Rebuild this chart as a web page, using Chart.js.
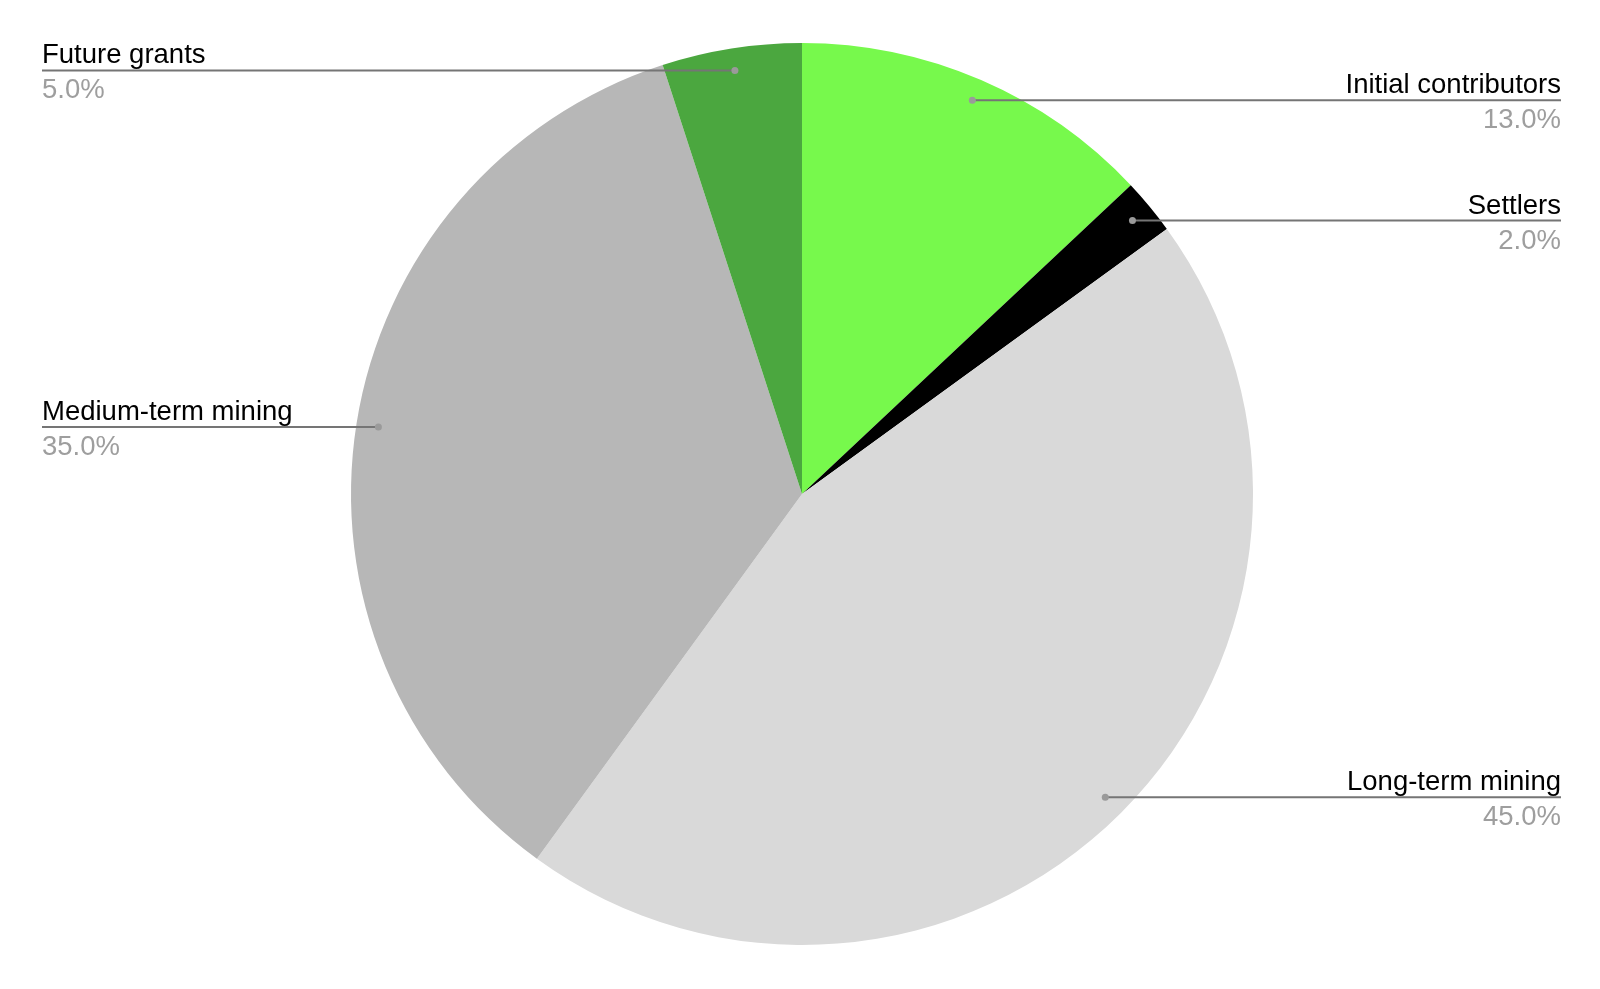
<!DOCTYPE html>
<html>
<head>
<meta charset="utf-8">
<script src="https://cdn.jsdelivr.net/npm/chart.js@4"></script>
<style>
  html, body { margin: 0; padding: 0; background: #fff; }
  #wrap { width: 1600px; height: 989px; }
</style>
</head>
<body>
<div id="wrap"><canvas id="grafico" width="1600" height="989"></canvas></div>
<script>
const categorias = ["Initial contributors", "Settlers", "Long-term mining", "Medium-term mining", "Future grants"];
const valores = [13, 2, 45, 35, 5];
const cores = ["#77F94C", "#000000", "#D9D9D9", "#B7B7B7", "#4BA73F"];

// rótulos com linha guia (estilo Google Sheets)
const rotulosExternos = {
  id: "rotulosExternos",
  afterDraw(chart, args, opts) {
    const ctx = chart.ctx;
    const meta = chart.getDatasetMeta(0);
    const total = valores.reduce((a, b) => a + b, 0);
    ctx.save();
    meta.data.forEach((arc, i) => {
      const p = arc.getProps(["x", "y", "startAngle", "endAngle", "outerRadius"], true);
      const meio = (p.startAngle + p.endAngle) / 2;
      const r = p.outerRadius * 0.951;
      const px = p.x + Math.cos(meio) * r;
      const py = p.y + Math.sin(meio) * r;
      const direita = Math.cos(meio) > 0;
      const xFim = direita ? opts.direita : opts.esquerda;

      ctx.strokeStyle = "#757575";
      ctx.lineWidth = 2;
      ctx.beginPath();
      ctx.moveTo(px, py);
      ctx.lineTo(xFim, py);
      ctx.stroke();

      ctx.fillStyle = "#9a9a9a";
      ctx.beginPath();
      ctx.arc(px, py, 3.5, 0, Math.PI * 2);
      ctx.fill();

      ctx.textAlign = direita ? "right" : "left";
      ctx.textBaseline = "alphabetic";
      ctx.font = "27.5px 'Liberation Sans', Arial, sans-serif";
      ctx.fillStyle = "#000000";
      ctx.fillText(categorias[i], xFim, py - 7);
      ctx.fillStyle = "#9e9e9e";
      ctx.fillText((valores[i] / total * 100).toFixed(1) + "%", xFim, py + 28);
    });
    ctx.restore();
  }
};

const ctx = document.getElementById("grafico").getContext("2d");
window.grafico = new Chart(ctx, {
  type: "pie",
  data: {
    labels: categorias,
    datasets: [{
      data: valores,
      backgroundColor: cores,
      borderWidth: 0
    }]
  },
  options: {
    responsive: false,
    animation: false,
    layout: { padding: { left: 4, right: 0, top: 43, bottom: 44 } },
    plugins: {
      legend: { display: false },
      tooltip: { enabled: false },
      rotulosExternos: { esquerda: 42, direita: 1561 }
    }
  },
  plugins: [rotulosExternos]
});
</script>
</body>
</html>
